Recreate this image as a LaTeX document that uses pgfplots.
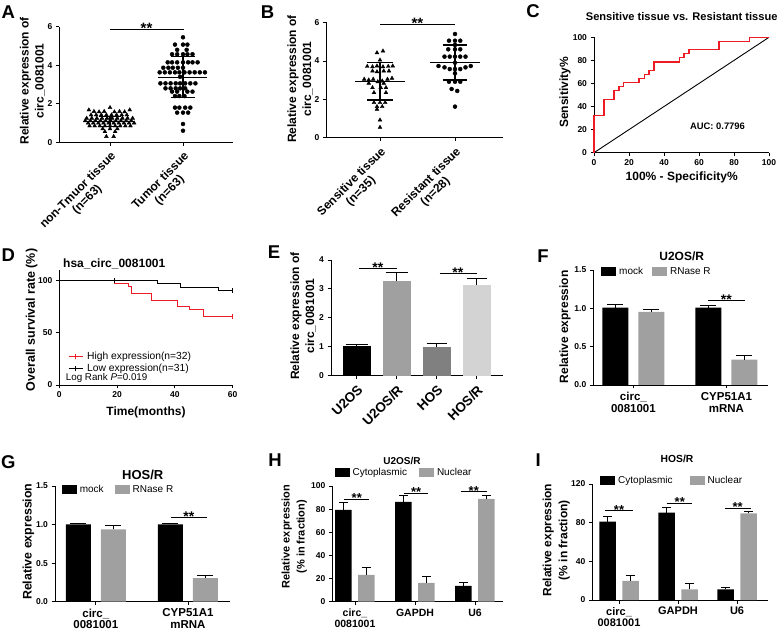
\documentclass[border=0pt]{standalone}
\usepackage{fontspec}
\setmainfont{Liberation Sans}
\usepackage{pgfplots}
\pgfplotsset{compat=1.18}
\newcommand{\fsz}[2]{\fontsize{#1}{#2}\selectfont}
\definecolor{rocred}{RGB}{237,28,36}
\definecolor{gbar}{RGB}{160,160,160}
\definecolor{dgbar}{RGB}{128,128,128}
\definecolor{lgbar}{RGB}{211,211,211}
\pgfplotsset{
  gp/.style={
    scale only axis, anchor=south west,
    axis lines*=left,
    axis line style={line width=0.9pt, black},
    every tick/.style={line width=0.9pt, black},
    tick align=outside,
    major tick length=3.5pt,
    clip=false,
    /pgf/number format/assume math mode=true,
    tick label style={font=\bfseries\fsz{8.5}{10}},
  },
  errb/.style={error bars/.cd, y dir=plus, y explicit,
    error bar style={line width=0.9pt, black},
    error mark options={rotate=90, mark size=#1, line width=0.9pt, black}},
  barleg/.style={legend style={draw=none, fill=none, inner sep=0pt, font=\fsz{10}{11},
      legend columns=2,
      /tikz/every odd column/.append style={column sep=1pt},
      /tikz/every even column/.append style={column sep=#1}},
    legend cell align=left,
    legend image code/.code={\fill[##1] (0pt,-4.5pt) rectangle (15pt,4.5pt);}},
  sig/.style={black, line width=0.9pt, forget plot},
}
\begin{document}
\begin{tikzpicture}[x=1pt,y=1pt]
\useasboundingbox (0,0) rectangle (778,634);

% ---------------- A ----------------
\begin{axis}[gp, at={(59.3pt,491.7pt)}, width=173.7pt, height=115.6pt,
  xmin=-0.695, xmax=1.685, ymin=0, ymax=6, ytick={0,2,4,6}, xtick={0,1},
  xticklabels={{non-Tmuor tissue\\(n=63)},{Tumor tissue\\(n=63)}},
  xticklabel style={rotate=45, anchor=north east, align=center, font=\bfseries\fsz{12}{13}}]
\addplot[only marks, mark=triangle*, mark size=2.2pt, black] coordinates {
(0.00,1.80)
(-0.29,1.68) (0.27,1.68)
(-0.22,1.60) (-0.15,1.58) (-0.08,1.60) (0.06,1.58) (0.13,1.60) (0.20,1.58)
(-0.26,1.42) (-0.19,1.42) (-0.12,1.42) (-0.05,1.42) (0.02,1.42) (0.09,1.42) (0.16,1.42) (0.23,1.42)
(-0.32,1.25) (-0.25,1.25) (-0.18,1.25) (-0.11,1.25) (-0.04,1.25) (0.03,1.25) (0.10,1.25) (0.17,1.25) (0.24,1.25) (0.31,1.25)
(-0.34,1.12) (-0.27,1.12) (-0.20,1.12) (-0.13,1.12) (-0.06,1.12) (0.01,1.12) (0.08,1.12) (0.15,1.12) (0.22,1.12) (0.29,1.12)
(-0.30,1.00) (-0.23,1.00) (-0.16,1.00) (-0.09,1.00) (-0.02,1.00) (0.05,1.00) (0.12,1.00) (0.19,1.00) (0.26,1.00) (0.33,1.00)
(-0.28,0.85) (-0.21,0.85) (-0.14,0.85) (-0.07,0.85) (0.00,0.85) (0.07,0.85) (0.14,0.85) (0.21,0.85) (0.28,0.85)
(-0.10,0.70) (0.00,0.70) (0.10,0.70)
(-0.07,0.55) (0.07,0.55)
(-0.05,0.30) (0.05,0.30)};
\addplot[only marks, mark=*, mark size=2pt, black] coordinates {
(1.00,5.45)
(0.89,5.07) (1.00,5.07) (1.06,5.07)
(0.92,4.80) (1.05,4.80)
(0.85,4.57) (0.92,4.57) (1.00,4.57) (1.06,4.57) (1.13,4.57)
(0.79,4.15) (0.85,4.15) (0.92,4.15) (1.00,4.15) (1.07,4.15) (1.13,4.15) (1.20,4.15)
(0.73,3.87) (0.80,3.87) (0.86,3.87) (0.93,3.87) (1.00,3.87)
(0.68,3.63) (0.75,3.63) (0.82,3.63) (0.89,3.63) (0.95,3.63) (1.02,3.63) (1.09,3.63) (1.16,3.63) (1.23,3.63) (1.30,3.63)
(0.96,3.40)
(0.69,3.06) (0.76,3.06) (0.83,3.06) (0.90,3.06) (0.96,3.06) (1.03,3.06) (1.10,3.06) (1.17,3.06)
(0.76,2.80) (0.83,2.80) (0.90,2.80) (0.96,2.80) (1.03,2.80)
(0.85,2.63) (0.92,2.63) (1.06,2.63) (1.13,2.63)
(0.89,2.40) (0.95,2.40) (1.02,2.40)
(0.89,1.80) (0.95,1.80) (1.03,1.80) (1.10,1.80)
(0.92,1.54) (1.00,1.54) (1.07,1.54)
(1.00,0.95)
(1.00,0.60)};
\addplot[black, line width=1.2pt] coordinates {(-0.34,1.07) (0.34,1.07)};
\addplot[black, line width=1.2pt] coordinates {(-0.15,1.34) (0.15,1.34)};
\addplot[black, line width=1.2pt] coordinates {(-0.15,0.80) (0.15,0.80)};
\addplot[black, line width=1.2pt] coordinates {(0,0.80) (0,1.34)};
\addplot[black, line width=1.2pt] coordinates {(0.66,3.37) (1.33,3.37)};
\addplot[black, line width=1.2pt] coordinates {(0.83,4.44) (1.17,4.44)};
\addplot[black, line width=1.2pt] coordinates {(0.83,2.32) (1.17,2.32)};
\addplot[black, line width=1.2pt] coordinates {(1,2.32) (1,4.44)};
\addplot[sig] coordinates {(0,5.86) (1.01,5.86)};
\node[font=\bfseries\fsz{15}{15}, anchor=base, inner sep=0pt, yshift=-4pt] at (axis cs:0.5,5.86) {**};
\end{axis}

% ---------------- B ----------------
\begin{axis}[gp, at={(326.5pt,496.3pt)}, width=176.5pt, height=115pt,
  xmin=-0.713, xmax=1.64, ymin=0, ymax=6, ytick={0,2,4,6}, xtick={0,1},
  xticklabels={{Sensitive tissue\\(n=35)},{Resistant tissue\\(n=28)}},
  xticklabel style={rotate=45, anchor=north east, align=center, font=\bfseries\fsz{12}{13}}]
\addplot[only marks, mark=triangle*, mark size=2.2pt, black] coordinates {
(0.04,4.52) (-0.04,4.43) (0.00,4.05)
(-0.17,3.72) (-0.10,3.70) (-0.04,3.74) (0.04,3.70) (0.11,3.72) (0.17,3.74)
(-0.10,3.48) (-0.04,3.44) (0.05,3.48) (0.12,3.48)
(-0.21,3.05) (-0.15,3.01) (-0.09,3.05) (0.03,2.96) (0.10,3.05) (0.16,3.10)
(-0.03,2.92)
(-0.15,2.84) (0.05,2.84)
(-0.10,2.61) (0.01,2.61) (0.08,2.61)
(-0.08,2.35) (0.08,2.35)
(-0.08,1.83) (0.00,1.83) (0.07,1.83)
(-0.04,1.62) (0.03,1.62)
(-0.04,1.48)
(0.00,0.92)
(0.00,0.54)};
\addplot[only marks, mark=*, mark size=2pt, black] coordinates {
(1.00,5.41)
(0.92,5.06) (1.00,5.06) (1.07,5.06)
(1.00,4.84)
(0.91,4.61) (1.00,4.61) (1.07,4.61)
(0.86,4.23) (0.93,4.23) (1.00,4.23) (1.07,4.23) (1.14,4.23)
(1.00,3.91)
(0.78,3.74) (0.86,3.67) (0.93,3.58) (1.00,3.58) (1.07,3.58) (1.14,3.67) (1.21,3.74)
(1.00,3.36)
(0.92,2.92) (1.00,2.92) (1.07,2.92)
(0.955,2.54) (1.03,2.44)
(1.00,1.62)};
\addplot[black, line width=1.2pt] coordinates {(-0.33,2.92) (0.33,2.92)};
\addplot[black, line width=1.2pt] coordinates {(-0.17,3.91) (0.17,3.91)};
\addplot[black, line width=1.2pt] coordinates {(-0.17,1.97) (0.17,1.97)};
\addplot[black, line width=1.2pt] coordinates {(0,1.97) (0,3.91)};
\addplot[black, line width=1.2pt] coordinates {(0.67,3.91) (1.33,3.91)};
\addplot[black, line width=1.2pt] coordinates {(0.84,4.84) (1.16,4.84)};
\addplot[black, line width=1.2pt] coordinates {(0.84,3.01) (1.16,3.01)};
\addplot[black, line width=1.2pt] coordinates {(1,3.01) (1,4.84)};
\addplot[sig] coordinates {(0,5.93) (1.0,5.93)};
\node[font=\bfseries\fsz{15}{15}, anchor=base, inner sep=0pt, yshift=-4pt] at (axis cs:0.5,5.93) {**};
\end{axis}

% ---------------- C ----------------
\begin{axis}[gp, at={(594pt,481.3pt)}, width=175pt, height=115.4pt,
  xmin=0, xmax=100, ymin=0, ymax=100, xtick={0,20,...,100}, ytick={0,20,...,100}]
\addplot[black, line width=0.9pt] coordinates {(0,0) (100,100)};
\addplot[const plot, color=rocred, line width=1.1pt] coordinates {
(0,0) (0,32.1) (5.7,46.4) (11.4,53.6) (14.3,57.1) (17.1,60.7) (25.7,64.3) (28.6,67.9)
(31.4,71.4) (34.3,78.6) (48.6,82.1) (51.4,85.7) (54.3,89.3) (71.4,96.4) (88.6,100) (100,100)};
\end{axis}

% ---------------- D ----------------
\begin{axis}[gp, at={(59.3pt,249pt)}, width=173.4pt, height=115pt,
  xmin=0, xmax=60, ymin=0, ymax=110, xtick={0,20,40,60}, ytick={0,50,100},
  legend style={draw=none, fill=none, inner sep=0pt, font=\fsz{10.3}{11},
    at={(axis description cs:0.05,0.31)}, anchor=north west,
    /tikz/every odd column/.append style={column sep=2pt}},
  legend cell align=left,
  legend image code/.code={\draw[#1] (0pt,0pt)--(14pt,0pt); \draw[#1] (7pt,-2.5pt)--(7pt,2.5pt);}]
\addplot[const plot, color=rocred, line width=1pt, forget plot] coordinates {
(0,100) (19,96.9) (24,93.8) (25,87.5) (32,81.3) (41,75) (45,71.9) (50,65.6) (60,65.6)};
\addplot[const plot, black, line width=1pt, forget plot] coordinates {
(0,100) (34,96.8) (42,93.5) (55,90.3) (60,90.3)};
\addplot[only marks, mark=|, mark size=2.5pt, color=rocred, forget plot] coordinates {(60,65.6)};
\addplot[only marks, mark=|, mark size=2.5pt, black, forget plot] coordinates {(60,90.3) (19,100)};
\addlegendimage{color=rocred, line width=1pt}
\addlegendentry{High expression(n=32)}
\addlegendimage{black, line width=1pt}
\addlegendentry{Low expression(n=31)}
\end{axis}

% ---------------- E ----------------
\begin{axis}[gp, at={(331pt,258.3pt)}, width=172pt, height=115.7pt,
  xmin=-0.6425, xmax=3.6575, ymin=0, ymax=4, ytick={0,1,2,3,4}, xtick={0,1,2,3},
  xticklabels={U2OS,U2OS/R,HOS,HOS/R},
  xticklabel style={rotate=45, anchor=north east, font=\bfseries\fsz{13.5}{14}}]
\addplot[ybar, bar width=28pt, bar shift=0pt, fill=black, draw=none, errb=11pt] coordinates {(0,1.02) +- (0,0.06)};
\addplot[ybar, bar width=28pt, bar shift=0pt, fill=gbar, draw=none, errb=11pt] coordinates {(1,3.28) +- (0,0.28)};
\addplot[ybar, bar width=28pt, bar shift=0pt, fill=dgbar, draw=none, errb=10pt] coordinates {(2,1.00) +- (0,0.12)};
\addplot[ybar, bar width=28pt, bar shift=0pt, fill=lgbar, draw=none, errb=10pt] coordinates {(3,3.13) +- (0,0.23)};
\addplot[sig] coordinates {(0.06,3.71) (1.0,3.71)};
\addplot[sig] coordinates {(2.07,3.52) (3.0,3.52)};
\node[font=\bfseries\fsz{14}{14}, anchor=base, inner sep=0pt, yshift=-4pt] at (axis cs:0.53,3.71) {**};
\node[font=\bfseries\fsz{14}{14}, anchor=base, inner sep=0pt, yshift=-4pt] at (axis cs:2.53,3.52) {**};
\end{axis}

% ---------------- F ----------------
\begin{axis}[gp, barleg=7pt, at={(593.3pt,249pt)}, width=174.7pt, height=115pt,
  xmin=-0.431, xmax=1.447, ymin=0, ymax=1.5, ytick={0,0.5,1,1.5}, xtick={0,1},
  yticklabel style={/pgf/number format/.cd, fixed, fixed zerofill, precision=1},
  xticklabels={{circ\_\\0081001},{CYP51A1\\mRNA}},
  xticklabel style={align=center, font=\bfseries\fsz{11.5}{12.5}},
  legend style={at={(axis description cs:0.044,0.985)}, anchor=west}]
\addplot[forget plot, ybar, bar width=26pt, bar shift=0pt, fill=black, draw=none, errb=8pt] coordinates {(-0.1935,1.01) +- (0,0.04) (0.8065,1.01) +- (0,0.025)};
\addplot[forget plot, ybar, bar width=26pt, bar shift=0pt, fill=gbar, draw=none, errb=8pt] coordinates {(0.1935,0.955) +- (0,0.03) (1.1935,0.33) +- (0,0.055)};
\addplot[sig] coordinates {(0.805,1.10) (1.2,1.10)};
\node[font=\bfseries\fsz{14}{14}, anchor=base, inner sep=0pt, yshift=-4pt] at (axis cs:1.0,1.10) {**};
\addlegendimage{fill=black, draw=none}
\addlegendentry{mock}
\addlegendimage{fill=gbar, draw=none}
\addlegendentry{RNase R}
\end{axis}

% ---------------- G ----------------
\begin{axis}[gp, barleg=9pt, at={(55pt,32.3pt)}, width=175pt, height=115.7pt,
  xmin=-0.443, xmax=1.456, ymin=0, ymax=1.5, ytick={0,0.5,1,1.5}, xtick={0,1},
  yticklabel style={/pgf/number format/.cd, fixed, fixed zerofill, precision=1},
  xticklabels={{circ\_\\0081001},{CYP51A1\\mRNA}},
  xticklabel style={align=center, font=\bfseries\fsz{11.5}{11.5}},
  legend style={at={(axis description cs:0.038,0.971)}, anchor=west}]
\addplot[forget plot, ybar, bar width=25pt, bar shift=0pt, fill=black, draw=none, errb=8pt] coordinates {(-0.19,1.003) +- (0,0.013) (0.81,1.003) +- (0,0.013)};
\addplot[forget plot, ybar, bar width=25pt, bar shift=0pt, fill=gbar, draw=none, errb=8pt] coordinates {(0.19,0.938) +- (0,0.052) (1.19,0.307) +- (0,0.039)};
\addplot[sig] coordinates {(0.816,1.089) (1.209,1.089)};
\node[font=\bfseries\fsz{14}{14}, anchor=base, inner sep=0pt, yshift=-4pt] at (axis cs:1.01,1.089) {**};
\addlegendimage{fill=black, draw=none}
\addlegendentry{mock}
\addlegendimage{fill=gbar, draw=none}
\addlegendentry{RNase R}
\end{axis}

% ---------------- H ----------------
\begin{axis}[gp, barleg=10pt, at={(332.3pt,32.3pt)}, width=170.7pt, height=115.7pt,
  xmin=-0.378, xmax=2.467, ymin=0, ymax=100, ytick={0,20,...,100}, xtick={0,1,2},
  xticklabels={{circ\_\\0081001},{GAPDH},{U6}},
  xticklabel style={align=center, font=\bfseries\fsz{10.5}{11}, anchor=north},
  legend style={at={(axis description cs:0.012,1.118)}, anchor=west}]
\addplot[forget plot, ybar, bar width=16.5pt, bar shift=0pt, fill=black, draw=none, errb=4.2pt] coordinates {(-0.1917,79.3) +- (0,6.3) (0.8083,86.2) +- (0,5.8) (1.8083,13.6) +- (0,3.2)};
\addplot[forget plot, ybar, bar width=16.5pt, bar shift=0pt, fill=gbar, draw=none, errb=4.2pt] coordinates {(0.1917,23.1) +- (0,6.6) (1.1917,16.2) +- (0,5.4) (2.1917,88.8) +- (0,3.4)};
\addplot[sig] coordinates {(-0.183,88.8) (0.233,88.8)};
\addplot[sig] coordinates {(0.817,93.7) (1.222,93.7)};
\addplot[sig] coordinates {(1.762,95.1) (2.195,95.1)};
\node[font=\bfseries\fsz{13}{13}, anchor=base, inner sep=0pt, yshift=-3.5pt] at (axis cs:0.03,88.8) {**};
\node[font=\bfseries\fsz{13}{13}, anchor=base, inner sep=0pt, yshift=-3.5pt] at (axis cs:1.02,93.7) {**};
\node[font=\bfseries\fsz{13}{13}, anchor=base, inner sep=0pt, yshift=-3.5pt] at (axis cs:1.98,95.1) {**};
\addlegendimage{fill=black, draw=none}
\addlegendentry{Cytoplasmic}
\addlegendimage{fill=gbar, draw=none}
\addlegendentry{Nuclear}
\end{axis}

% ---------------- I ----------------
\begin{axis}[gp, barleg=15pt, at={(592.3pt,34pt)}, width=175.7pt, height=116pt,
  xmin=-0.453, xmax=2.525, ymin=0, ymax=120, ytick={0,40,80,120}, xtick={0,1,2},
  xticklabels={{circ\_\\0081001},{GAPDH},{U6}},
  xticklabel style={align=center, font=\bfseries\fsz{11}{11.5}, anchor=north},
  legend style={at={(axis description cs:0.044,1.026)}, anchor=west}]
\addplot[forget plot, ybar, bar width=16.5pt, bar shift=0pt, fill=black, draw=none, errb=4.2pt] coordinates {(-0.195,81) +- (0,5.9) (0.805,90.3) +- (0,5.6) (1.805,11) +- (0,1.8)};
\addplot[forget plot, ybar, bar width=16.5pt, bar shift=0pt, fill=gbar, draw=none, errb=4.2pt] coordinates {(0.195,19.7) +- (0,5.5) (1.195,11) +- (0,5.9) (2.195,89.7) +- (0,1.7)};
\addplot[sig] coordinates {(-0.237,92.4) (0.242,92.4)};
\addplot[sig] coordinates {(0.808,100) (1.243,100)};
\addplot[sig] coordinates {(1.797,94.9) (2.232,94.9)};
\node[font=\bfseries\fsz{13}{13}, anchor=base, inner sep=0pt, yshift=-3.5pt] at (axis cs:0.0,92.4) {**};
\node[font=\bfseries\fsz{13}{13}, anchor=base, inner sep=0pt, yshift=-3.5pt] at (axis cs:1.03,100) {**};
\node[font=\bfseries\fsz{13}{13}, anchor=base, inner sep=0pt, yshift=-3.5pt] at (axis cs:2.01,94.9) {**};
\addlegendimage{fill=black, draw=none}
\addlegendentry{Cytoplasmic}
\addlegendimage{fill=gbar, draw=none}
\addlegendentry{Nuclear}
\end{axis}

% ---------------- texts ----------------
\begin{scope}[every node/.style={font=\bfseries\fsz{18.5}{20}, inner sep=0pt}]
\node at (8.3,622.3) {A};
\node at (267.5,622.3) {B};
\node at (533,623) {C};
\node at (8.3,379) {D};
\node at (274,382.3) {E};
\node at (543,378) {F};
\node at (8.3,172.3) {G};
\node at (275,174) {H};
\node at (538.3,174) {I};
\end{scope}
% titles
\node[font=\bfseries\fsz{11.1}{12}, anchor=base, inner sep=0pt] at (681.7,613.5) {Sensitive tissue vs. Resistant tissue};
\node[font=\bfseries\fsz{12}{13}, anchor=base west, inner sep=0pt] at (63,366.4) {hsa\_circ\_0081001};
\node[font=\bfseries\fsz{12}{13}, anchor=base, inner sep=0pt] at (681.7,373) {U2OS/R};
\node[font=\bfseries\fsz{13}{14}, anchor=base, inner sep=0pt] at (142.7,154.3) {HOS/R};
\node[font=\bfseries\fsz{10}{11}, anchor=base, inner sep=0pt] at (402,169.7) {U2OS/R};
\node[font=\bfseries\fsz{10.3}{11}, anchor=base, inner sep=0pt] at (677,171) {HOS/R};
% y labels
\node[rotate=90, align=center, font=\bfseries\fsz{12}{15}] at (32.5,553.2) {Relative expression of\\circ\_0081001};
\node[rotate=90, align=center, font=\bfseries\fsz{12}{15}] at (300,555) {Relative expression of\\circ\_0081001};
\node[rotate=90, font=\bfseries\fsz{12}{13}] at (565,541.5) {Sensitivity\%};
\node[rotate=90, font=\bfseries\fsz{12.5}{13}] at (31.7,314) {Overall survival rate (\%)};
\node[rotate=90, align=center, font=\bfseries\fsz{12}{15}] at (303,318) {Relative expression of\\circ\_0081001};
\node[rotate=90, font=\bfseries\fsz{12}{13}] at (565,307.3) {Relative expression};
\node[rotate=90, font=\bfseries\fsz{12.4}{13}] at (28.3,92.3) {Relative expression};
\node[rotate=90, align=center, font=\bfseries\fsz{11}{15}] at (294.2,97.3) {Relative expression\\(\% in fraction)};
\node[rotate=90, align=center, font=\bfseries\fsz{12}{16}] at (556.3,93.7) {Relative expression\\(\% in fraction)};
% x labels
\node[font=\bfseries\fsz{12}{13}, anchor=base, inner sep=0pt] at (681.7,453) {100\% - Specificity\%};
\node[font=\bfseries\fsz{12}{13}, anchor=base, inner sep=0pt] at (146,218) {Time(months)};
% other
\node[font=\bfseries\fsz{9.4}{11}] at (717.5,508) {AUC: 0.7796};
\node[font=\fsz{9.8}{11}, anchor=base west, inner sep=0pt] at (65.7,253.9) {Log Rank \textit{P}=0.019};
\end{tikzpicture}
\end{document}
